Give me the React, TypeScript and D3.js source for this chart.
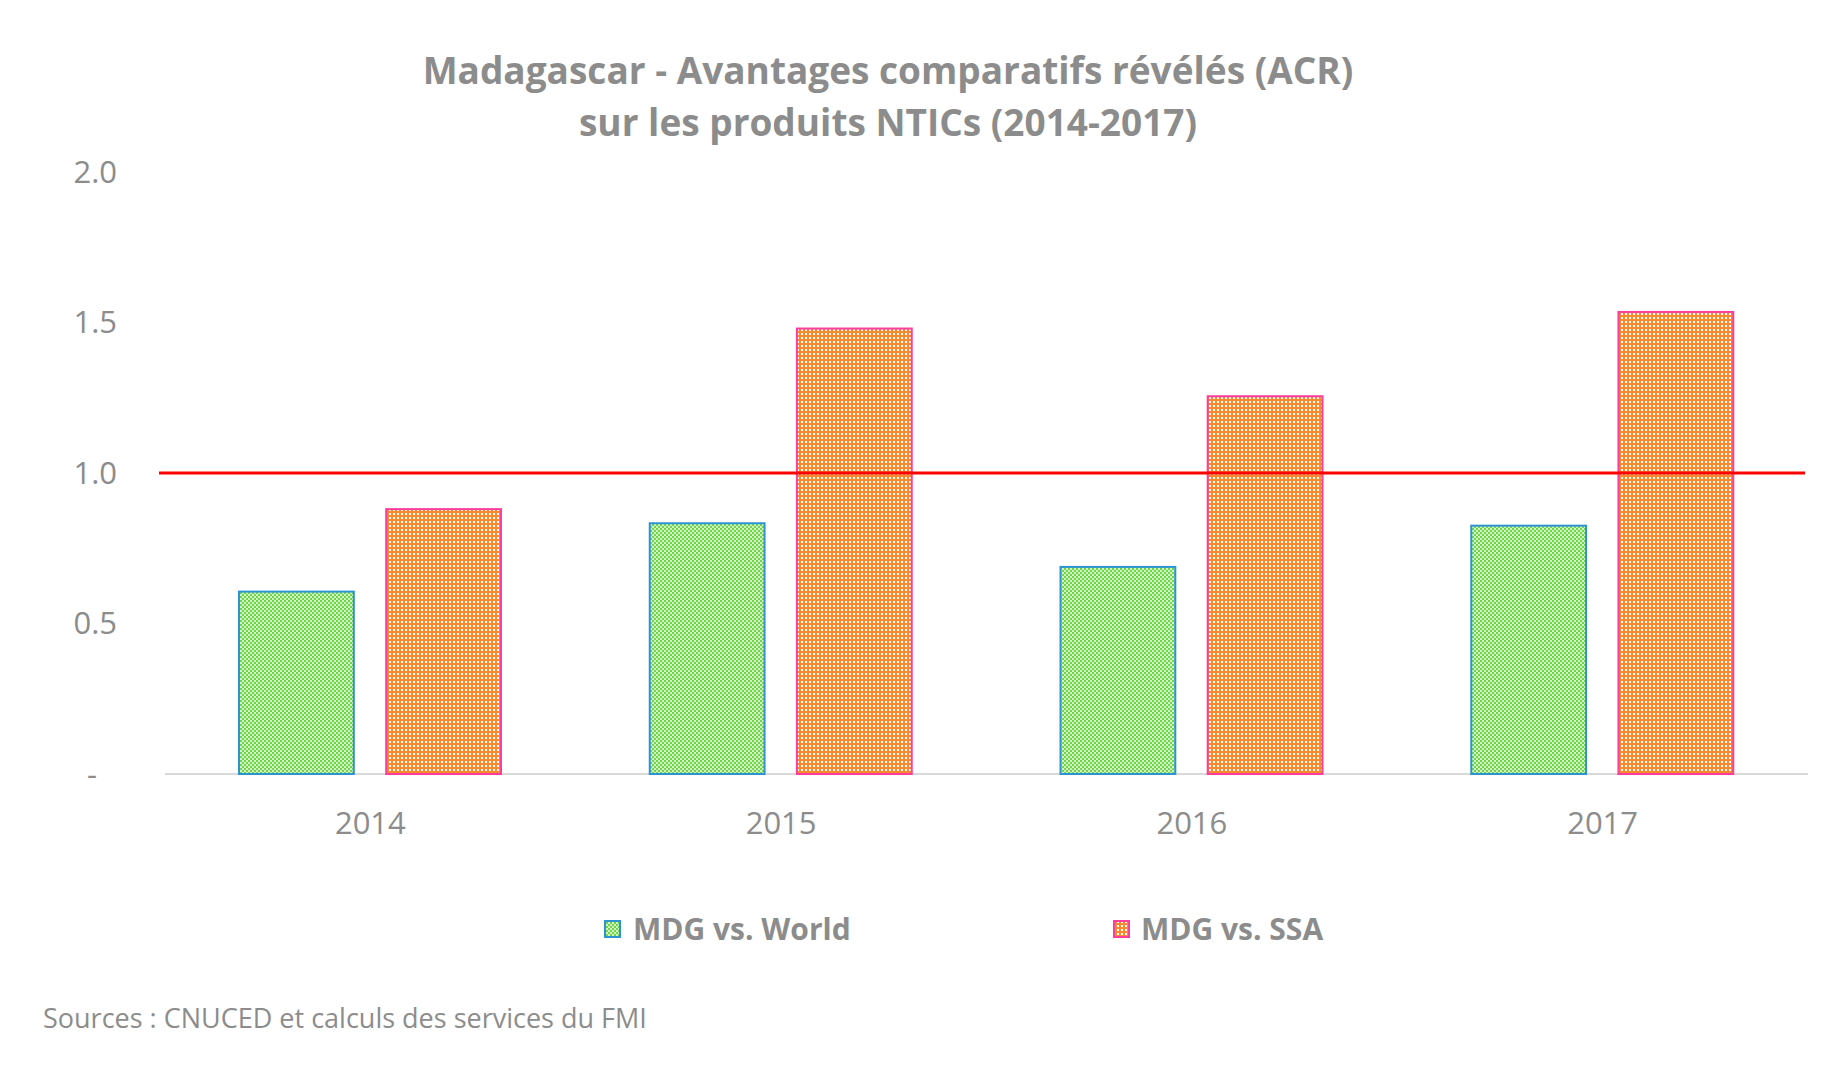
import * as d3 from 'd3'

const years = ['2014', '2015', '2016', '2017']
const mdgWorld = [0.606, 0.833, 0.688, 0.825]
const mdgSsa = [0.88, 1.48, 1.255, 1.535]
const yTicks = [0, 0.5, 1.0, 1.5, 2.0]
const seriesNames = ['MDG vs. World', 'MDG vs. SSA']
const reference = 1.0

const W = 1844
const H = 1065
const FONT = '"Open Sans", "Noto Sans", sans-serif'
const GREY = '#8c8c8c'

export default function App() {
  const x = d3.scaleBand().domain(years).range([165, 1808]).paddingInner(0).paddingOuter(0)
  const inner = d3.scaleBand().domain(['w', 's']).range([74, 336]).paddingInner(0.22)
  const y = d3.scaleLinear().domain([0, 2]).range([774, 172])

  const fmt = (v: number) => (v === 0 ? '-' : d3.format('.1f')(v))

  return (
    <svg
      width={W}
      height={H}
      viewBox={`0 0 ${W} ${H}`}
      style={{ position: 'absolute', left: 0, top: 0, display: 'block', background: '#fff' }}
    >
      <defs>
        <pattern id="pGreen" width={4} height={4} patternUnits="userSpaceOnUse">
          <rect width={4} height={4} fill="#d2f3c2" />
          <rect width={2} height={2} fill="#72d44e" />
          <rect x={2} y={2} width={2} height={2} fill="#72d44e" />
        </pattern>
        <pattern id="pOrange" width={4} height={4} patternUnits="userSpaceOnUse">
          <rect width={4} height={4} fill="#f78a2a" />
          <rect x={1} y={1} width={2} height={2} fill="#ffffff" />
        </pattern>
      </defs>

      <text textAnchor="middle" fontFamily={FONT} fontWeight={700} fontSize={37} fill={GREY}>
        <tspan x={888} y={84}>Madagascar - Avantages comparatifs révélés (ACR)</tspan>
        <tspan x={888} y={136}>sur les produits NTICs (2014-2017)</tspan>
      </text>

      {yTicks.map(t => (
        <text
          key={t}
          x={t === 0 ? 97 : 117}
          y={y(t)}
          dy="0.35em"
          textAnchor="end"
          fontFamily={FONT}
          fontSize={31}
          fill={GREY}
        >
          {fmt(t)}
        </text>
      ))}

      <line x1={165} x2={1808} y1={y(0)} y2={y(0)} stroke="#d9d9d9" strokeWidth={2} />

      {years.map((yr, i) => {
        const x0 = x(yr) ?? 0
        const gx = x0 + (inner('w') ?? 0)
        const ox = x0 + (inner('s') ?? 0)
        const bw = inner.bandwidth()
        return (
          <g key={yr}>
            <rect
              x={gx}
              y={y(mdgWorld[i])}
              width={bw}
              height={y(0) - y(mdgWorld[i])}
              fill="url(#pGreen)"
              stroke="#2e93d1"
              strokeWidth={2}
            />
            <rect
              x={ox}
              y={y(mdgSsa[i])}
              width={bw}
              height={y(0) - y(mdgSsa[i])}
              fill="url(#pOrange)"
              stroke="#ff3d9e"
              strokeWidth={2}
            />
            <text
              x={x0 + x.bandwidth() / 2}
              y={823}
              dy="0.35em"
              textAnchor="middle"
              fontFamily={FONT}
              fontSize={31}
              fill={GREY}
            >
              {yr}
            </text>
          </g>
        )
      })}

      <line x1={159} x2={1805} y1={y(reference)} y2={y(reference)} stroke="#ff0000" strokeWidth={3} />

      <g fontFamily={FONT} fontWeight={700} fontSize={30} fill={GREY}>
        <rect x={605} y={921} width={15} height={16} fill="url(#pGreen)" stroke="#2e93d1" strokeWidth={2} />
        <text x={633} y={929} dy="0.35em">{seriesNames[0]}</text>
        <rect x={1114} y={921} width={15} height={16} fill="url(#pOrange)" stroke="#ff3d9e" strokeWidth={2} />
        <text x={1141} y={929} dy="0.35em">{seriesNames[1]}</text>
      </g>

      <text x={43} y={1019} dy="0.35em" fontFamily={FONT} fontSize={27} fill={GREY}>
        Sources : CNUCED et calculs des services du FMI
      </text>
    </svg>
  )
}
